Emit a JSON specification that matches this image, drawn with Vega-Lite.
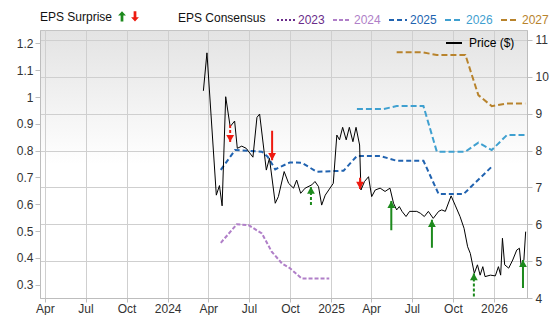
{
  "$schema": "https://vega.github.io/schema/vega-lite/v6.json",
  "width": 487,
  "height": 268,
  "autosize": {"type": "none"},
  "padding": {"left": 40, "top": 30, "right": 29, "bottom": 17},
  "config": {
    "font": "Liberation Sans",
    "view": {
      "stroke": "#c4c4c4",
      "fill": {"gradient": "linear", "x1": 0, "y1": 0, "x2": 0, "y2": 1,
        "stops": [{"offset": 0, "color": "#e3e3e3"}, {"offset": 0.5, "color": "#ffffff"}, {"offset": 1, "color": "#ffffff"}]}
    },
    "axis": {"labelFontSize": 12, "labelColor": "#333333", "tickColor": "#bdbdbd", "domainColor": "#bdbdbd", "gridColor": "#cfcfcf", "title": null, "tickSize": 5, "labelOverlap": false},
    "legend": {"titleFontWeight": "normal", "titleFontSize": 12, "labelFontSize": 12, "titleColor": "#111111", "labelColor": "#333333"}
  },
  "datasets": {
    "eps": [
      {"date": "2024-04-29", "series": "2024", "eps": 0.456},
      {"date": "2024-06-04", "series": "2024", "eps": 0.525},
      {"date": "2024-06-30", "series": "2024", "eps": 0.522},
      {"date": "2024-07-30", "series": "2024", "eps": 0.491},
      {"date": "2024-08-21", "series": "2024", "eps": 0.423},
      {"date": "2024-09-13", "series": "2024", "eps": 0.379},
      {"date": "2024-10-01", "series": "2024", "eps": 0.361},
      {"date": "2024-10-27", "series": "2024", "eps": 0.323},
      {"date": "2024-12-28", "series": "2024", "eps": 0.323},
      {"date": "2024-04-29", "series": "2025", "eps": 0.728},
      {"date": "2024-05-31", "series": "2025", "eps": 0.802},
      {"date": "2024-07-30", "series": "2025", "eps": 0.796},
      {"date": "2024-08-12", "series": "2025", "eps": 0.777},
      {"date": "2024-08-29", "series": "2025", "eps": 0.730},
      {"date": "2024-10-01", "series": "2025", "eps": 0.756},
      {"date": "2024-10-27", "series": "2025", "eps": 0.755},
      {"date": "2024-11-30", "series": "2025", "eps": 0.721},
      {"date": "2025-01-29", "series": "2025", "eps": 0.725},
      {"date": "2025-02-28", "series": "2025", "eps": 0.780},
      {"date": "2025-04-21", "series": "2025", "eps": 0.780},
      {"date": "2025-05-28", "series": "2025", "eps": 0.762},
      {"date": "2025-07-27", "series": "2025", "eps": 0.762},
      {"date": "2025-08-30", "series": "2025", "eps": 0.638},
      {"date": "2025-10-25", "series": "2025", "eps": 0.638},
      {"date": "2025-12-27", "series": "2025", "eps": 0.740},
      {"date": "2025-02-28", "series": "2026", "eps": 0.955},
      {"date": "2025-04-28", "series": "2026", "eps": 0.955},
      {"date": "2025-05-28", "series": "2026", "eps": 0.966},
      {"date": "2025-07-27", "series": "2026", "eps": 0.966},
      {"date": "2025-08-26", "series": "2026", "eps": 0.796},
      {"date": "2025-10-29", "series": "2026", "eps": 0.796},
      {"date": "2025-11-27", "series": "2026", "eps": 0.830},
      {"date": "2025-12-27", "series": "2026", "eps": 0.802},
      {"date": "2026-01-30", "series": "2026", "eps": 0.858},
      {"date": "2026-03-12", "series": "2026", "eps": 0.858},
      {"date": "2025-05-28", "series": "2027", "eps": 1.167},
      {"date": "2025-07-23", "series": "2027", "eps": 1.167},
      {"date": "2025-08-26", "series": "2027", "eps": 1.157},
      {"date": "2025-10-29", "series": "2027", "eps": 1.157},
      {"date": "2025-11-27", "series": "2027", "eps": 1.007},
      {"date": "2025-12-27", "series": "2027", "eps": 0.966},
      {"date": "2026-01-30", "series": "2027", "eps": 0.976},
      {"date": "2026-03-12", "series": "2027", "eps": 0.976}
    ],
    "price": [
      {"date": "2024-03-21", "price": 9.62},
      {"date": "2024-03-29", "price": 10.65},
      {"date": "2024-04-19", "price": 6.79},
      {"date": "2024-04-26", "price": 7.05},
      {"date": "2024-05-02", "price": 6.50},
      {"date": "2024-05-10", "price": 9.46},
      {"date": "2024-05-20", "price": 8.65},
      {"date": "2024-05-30", "price": 8.80},
      {"date": "2024-06-05", "price": 8.06},
      {"date": "2024-06-15", "price": 8.12},
      {"date": "2024-06-25", "price": 8.06},
      {"date": "2024-07-10", "price": 7.82},
      {"date": "2024-07-19", "price": 8.90},
      {"date": "2024-07-25", "price": 8.99},
      {"date": "2024-08-09", "price": 7.47},
      {"date": "2024-08-16", "price": 7.79},
      {"date": "2024-08-29", "price": 6.57},
      {"date": "2024-09-05", "price": 6.75},
      {"date": "2024-09-18", "price": 7.43},
      {"date": "2024-09-28", "price": 7.11},
      {"date": "2024-10-09", "price": 6.98},
      {"date": "2024-10-16", "price": 7.20},
      {"date": "2024-10-25", "price": 6.84},
      {"date": "2024-11-04", "price": 6.98},
      {"date": "2024-11-19", "price": 7.07},
      {"date": "2024-11-26", "price": 7.16},
      {"date": "2024-12-04", "price": 7.02},
      {"date": "2024-12-11", "price": 6.52},
      {"date": "2024-12-19", "price": 6.79},
      {"date": "2025-01-06", "price": 7.11},
      {"date": "2025-01-14", "price": 8.42},
      {"date": "2025-01-20", "price": 8.29},
      {"date": "2025-01-27", "price": 8.63},
      {"date": "2025-02-04", "price": 8.29},
      {"date": "2025-02-11", "price": 8.63},
      {"date": "2025-02-19", "price": 8.24},
      {"date": "2025-02-26", "price": 8.63},
      {"date": "2025-03-06", "price": 8.15},
      {"date": "2025-03-09", "price": 6.93},
      {"date": "2025-03-17", "price": 7.16},
      {"date": "2025-03-26", "price": 7.29},
      {"date": "2025-04-02", "price": 6.75},
      {"date": "2025-04-10", "price": 6.93},
      {"date": "2025-04-21", "price": 6.98},
      {"date": "2025-05-02", "price": 6.89},
      {"date": "2025-05-13", "price": 6.98},
      {"date": "2025-05-21", "price": 6.57},
      {"date": "2025-05-28", "price": 6.39},
      {"date": "2025-06-03", "price": 6.48},
      {"date": "2025-06-09", "price": 6.35},
      {"date": "2025-06-18", "price": 6.21},
      {"date": "2025-06-26", "price": 6.35},
      {"date": "2025-07-12", "price": 6.35},
      {"date": "2025-07-20", "price": 6.30},
      {"date": "2025-07-29", "price": 6.21},
      {"date": "2025-08-07", "price": 6.35},
      {"date": "2025-08-18", "price": 6.16},
      {"date": "2025-08-30", "price": 6.35},
      {"date": "2025-09-06", "price": 6.39},
      {"date": "2025-09-14", "price": 6.35},
      {"date": "2025-09-27", "price": 6.77},
      {"date": "2025-10-06", "price": 6.52},
      {"date": "2025-10-17", "price": 6.21},
      {"date": "2025-10-26", "price": 5.89},
      {"date": "2025-11-03", "price": 5.39},
      {"date": "2025-11-09", "price": 5.21},
      {"date": "2025-11-18", "price": 4.67},
      {"date": "2025-11-25", "price": 4.90},
      {"date": "2025-12-01", "price": 4.62},
      {"date": "2025-12-07", "price": 4.85},
      {"date": "2025-12-12", "price": 4.58},
      {"date": "2025-12-24", "price": 4.62},
      {"date": "2026-01-04", "price": 4.60},
      {"date": "2026-01-11", "price": 4.85},
      {"date": "2026-01-16", "price": 4.62},
      {"date": "2026-01-20", "price": 5.62},
      {"date": "2026-01-25", "price": 4.90},
      {"date": "2026-02-03", "price": 4.81},
      {"date": "2026-02-12", "price": 5.03},
      {"date": "2026-02-21", "price": 5.30},
      {"date": "2026-02-27", "price": 5.35},
      {"date": "2026-03-03", "price": 4.85},
      {"date": "2026-03-09", "price": 5.03},
      {"date": "2026-03-13", "price": 5.80}
    ],
    "surprise": [
      {"date": "2024-05-20", "type": "miss", "style": "dashed", "tail": 8.69, "tip": 8.23},
      {"date": "2024-08-22", "type": "miss", "style": "solid", "tail": 8.54, "tip": 7.74},
      {"date": "2024-11-17", "type": "beat", "style": "dashed", "tail": 6.52, "tip": 7.02},
      {"date": "2025-03-07", "type": "miss", "style": "solid", "tail": 7.26, "tip": 6.96},
      {"date": "2025-05-16", "type": "beat", "style": "solid", "tail": 5.84, "tip": 6.63},
      {"date": "2025-08-15", "type": "beat", "style": "solid", "tail": 5.36, "tip": 6.12},
      {"date": "2025-11-17", "type": "beat", "style": "dashed", "tail": 4.04, "tip": 4.67},
      {"date": "2026-03-07", "type": "beat", "style": "solid", "tail": 4.27, "tip": 5.03}
    ]
  },
  "layer": [
    {
      "data": {"name": "eps"},
      "mark": {"type": "line", "strokeWidth": 2},
      "encoding": {
        "x": {
          "field": "date", "type": "temporal",
          "scale": {"domain": [{"year": 2023, "month": 3, "date": 21}, {"year": 2026, "month": 3, "date": 16}]},
          "axis": {
            "grid": true, "tickSize": 4, "labelPadding": 1,
            "values": [
              {"year": 2023, "month": 4, "date": 1}, {"year": 2023, "month": 7, "date": 1}, {"year": 2023, "month": 10, "date": 1},
              {"year": 2024, "month": 1, "date": 1}, {"year": 2024, "month": 4, "date": 1}, {"year": 2024, "month": 7, "date": 1}, {"year": 2024, "month": 10, "date": 1},
              {"year": 2025, "month": 1, "date": 1}, {"year": 2025, "month": 4, "date": 1}, {"year": 2025, "month": 7, "date": 1}, {"year": 2025, "month": 10, "date": 1},
              {"year": 2026, "month": 1, "date": 1}
            ],
            "labelExpr": "month(datum.value) === 0 ? timeFormat(datum.value, '%Y') : timeFormat(datum.value, '%b')"
          }
        },
        "y": {
          "field": "eps", "type": "quantitative",
          "scale": {"domain": [0.25, 1.25], "nice": false, "zero": false},
          "axis": {"orient": "left", "grid": false, "values": [0.3, 0.4, 0.5, 0.6, 0.7, 0.8, 0.9, 1, 1.1, 1.2], "format": "~g", "labelPadding": 2}
        },
        "stroke": {
          "field": "series", "type": "nominal",
          "scale": {"domain": ["2023", "2024", "2025", "2026", "2027"], "range": ["#6a2c8a", "#b07fc8", "#2163b0", "#3fa0d0", "#b8832c"]},
          "legend": {
            "title": "EPS Consensus", "orient": "none", "legendX": 138, "legendY": -20, "direction": "horizontal",
            "titleOrient": "left", "titlePadding": 10, "symbolType": "stroke", "symbolStrokeWidth": 2, "symbolSize": 324,
            "columnPadding": 4, "labelOffset": 2,
            "encode": {"labels": {"update": {"fill": {"scale": "stroke", "field": "value"}}}}
          }
        },
        "strokeDash": {
          "field": "series", "type": "nominal",
          "scale": {"domain": ["2023", "2024", "2025", "2026", "2027"], "range": [[2, 2], [4, 2], [5, 3], [6, 3], [6, 3]]},
          "legend": {
            "title": "EPS Consensus", "orient": "none", "legendX": 138, "legendY": -20, "direction": "horizontal",
            "titleOrient": "left", "titlePadding": 10, "symbolType": "stroke", "symbolStrokeWidth": 2, "symbolSize": 324,
            "columnPadding": 4, "labelOffset": 2,
            "encode": {"labels": {"update": {"fill": {"scale": "stroke", "field": "value"}}}}
          }
        }
      }
    },
    {
      "layer": [
        {
          "data": {"name": "price"},
          "mark": {"type": "line", "strokeWidth": 1},
          "encoding": {
            "x": {"field": "date", "type": "temporal"},
            "y": {
              "field": "price", "type": "quantitative",
              "scale": {"domain": [4, 11.27], "nice": false, "zero": false},
              "axis": {"orient": "right", "grid": true, "values": [4, 5, 6, 7, 8, 9, 10, 11], "labelPadding": 3, "labelOverlap": false}
            },
            "color": {
              "datum": "Price ($)",
              "scale": {"range": ["#000000"]},
              "legend": {
                "title": null, "orient": "none", "legendX": 405, "legendY": 4, "symbolType": "stroke",
                "symbolSize": 256, "symbolStrokeWidth": 2, "labelColor": "#000000", "labelOffset": 6,
                "encode": {"symbols": {"update": {"stroke": {"value": "#666666"}}}}
              }
            }
          }
        },
        {
          "data": {"name": "surprise"},
          "mark": {"type": "rule", "strokeWidth": 2},
          "encoding": {
            "x": {"field": "date", "type": "temporal"},
            "y": {"field": "tail", "type": "quantitative", "axis": {"orient": "right", "grid": true, "values": [4, 5, 6, 7, 8, 9, 10, 11], "labelPadding": 3, "labelOverlap": false}},
            "y2": {"field": "tip"},
            "color": {"condition": {"test": "datum.type === 'beat'", "value": "#1d8a1d"}, "value": "#ee1a10"},
            "strokeDash": {"condition": {"test": "datum.style === 'dashed'", "value": [3, 2]}, "value": [1, 0]}
          }
        },
        {
          "data": {"name": "surprise"},
          "mark": {"type": "point", "filled": true, "size": 200, "opacity": 1, "strokeWidth": 0},
          "encoding": {
            "x": {"field": "date", "type": "temporal"},
            "y": {"field": "tip", "type": "quantitative", "axis": {"orient": "right", "grid": true, "values": [4, 5, 6, 7, 8, 9, 10, 11], "labelPadding": 3, "labelOverlap": false}},
            "fill": {"condition": {"test": "datum.type === 'beat'", "value": "#1d8a1d"}, "value": "#ee1a10"},
            "shape": {"condition": {"test": "datum.type === 'beat'", "value": "M0,0L0.55,1L-0.55,1Z"}, "value": "M0,0L0.55,-1L-0.55,-1Z"}
          }
        },
        {
          "data": {"name": "surprise"},
          "mark": {"type": "point", "filled": true, "opacity": 0, "strokeWidth": 0},
          "encoding": {
            "x": {"field": "date", "type": "temporal"},
            "y": {"field": "tip", "type": "quantitative", "axis": {"orient": "right", "grid": true, "values": [4, 5, 6, 7, 8, 9, 10, 11], "labelPadding": 3, "labelOverlap": false}},
            "fill": {
              "field": "type", "type": "nominal",
              "scale": {"domain": ["beat", "miss"], "range": ["#1d8a1d", "#ee1a10"]},
              "legend": {
                "title": "EPS Surprise", "orient": "none", "legendX": 0, "legendY": -20, "direction": "horizontal",
                "titleOrient": "left", "titlePadding": 3, "labelExpr": "''", "symbolSize": 110, "symbolOpacity": 1, "columnPadding": -4, "labelOffset": 0
              }
            },
            "shape": {
              "field": "type", "type": "nominal",
              "scale": {"domain": ["beat", "miss"], "range": ["M0,-1L0.75,-0.15L0.26,-0.15L0.26,1L-0.26,1L-0.26,-0.15L-0.75,-0.15Z", "M0,1L0.75,0.15L0.26,0.15L0.26,-1L-0.26,-1L-0.26,0.15L-0.75,0.15Z"]},
              "legend": {
                "title": "EPS Surprise", "orient": "none", "legendX": 0, "legendY": -20, "direction": "horizontal",
                "titleOrient": "left", "titlePadding": 3, "labelExpr": "''", "symbolSize": 110, "symbolOpacity": 1, "columnPadding": -4, "labelOffset": 0
              }
            }
          }
        }
      ]
    }
  ],
  "resolve": {"scale": {"y": "independent"}}
}
